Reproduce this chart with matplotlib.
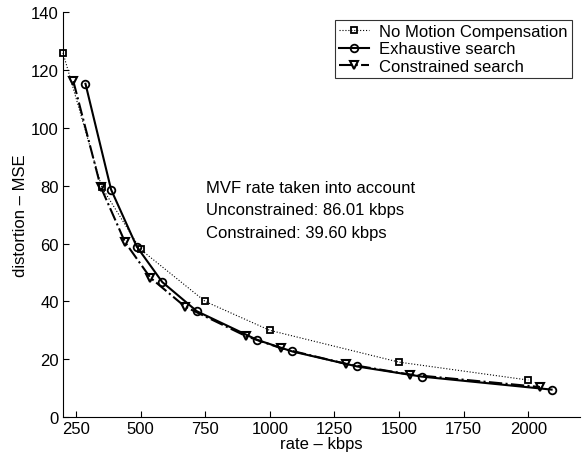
import matplotlib
matplotlib.use("Agg")
import matplotlib.pyplot as plt

plt.rcParams['font.family'] = ['Liberation Sans', 'DejaVu Sans']

# rate (kbps) / distortion (MSE)
nomc_rate = [200, 350, 500, 750, 1000, 1500, 2000]
nomc_mse = [126, 79.5, 58, 40, 30, 19, 12.8]

exh_rate = [287, 386, 485, 584, 718, 951, 1087, 1338, 1587, 2090]
exh_mse = [115.3, 78.7, 59, 46.7, 36.6, 26.7, 22.7, 17.5, 14.0, 9.5]

con_rate = [240, 346, 440, 538, 672, 908, 1044, 1295, 1542, 2045]
con_mse = [116.2, 79.6, 60.5, 48.2, 38.2, 28.0, 23.8, 18.4, 14.7, 10.4]

note_lines = ["MVF rate taken into account",
              "Unconstrained: 86.01 kbps",
              "Constrained: 39.60 kbps"]

fig = plt.figure(figsize=(5.86, 4.64), dpi=100)
ax = fig.add_axes([0.1075, 0.099, 0.8823, 0.8722])

ax.plot(nomc_rate, nomc_mse, color='black', linestyle=':', linewidth=0.8,
        marker='s', markersize=4.5, markerfacecolor='none', markeredgewidth=1.3,
        label='No Motion Compensation', clip_on=False)
ax.plot(exh_rate, exh_mse, color='black', linestyle='-', linewidth=1.5,
        marker='o', markersize=5.5, markerfacecolor='none', markeredgewidth=1.3,
        label='Exhaustive search', clip_on=False)
ax.plot(con_rate, con_mse, color='black', linestyle='-.', linewidth=1.5,
        marker='v', markersize=6, markerfacecolor='none', markeredgewidth=1.5,
        label='Constrained search', clip_on=False)

for i, s in enumerate(note_lines):
    ax.text(753, 79.5 - 7.8 * i, s, fontsize=12, ha='left', va='center')

ax.set_xlim(200, 2200)
ax.set_ylim(0, 140)
ax.set_xticks([250, 500, 750, 1000, 1250, 1500, 1750, 2000])
ax.set_yticks(range(0, 141, 20))
ax.tick_params(direction='in', labelsize=12, length=4, pad=3)
ax.spines['top'].set_visible(False)
ax.spines['right'].set_visible(False)
ax.set_xlabel('rate \u2013 kbps', fontsize=12, labelpad=0)
ax.set_ylabel('distortion \u2013 MSE', fontsize=12, labelpad=2)

leg = ax.legend(loc='upper right', bbox_to_anchor=(0.99, 0.99), fontsize=12,
                frameon=True, fancybox=False, edgecolor='black',
                handlelength=1.8, handletextpad=0.6, borderpad=0.25,
                labelspacing=0.15, borderaxespad=0.2)
leg.get_frame().set_linewidth(0.8)

fig.savefig('out.png', dpi=100)
